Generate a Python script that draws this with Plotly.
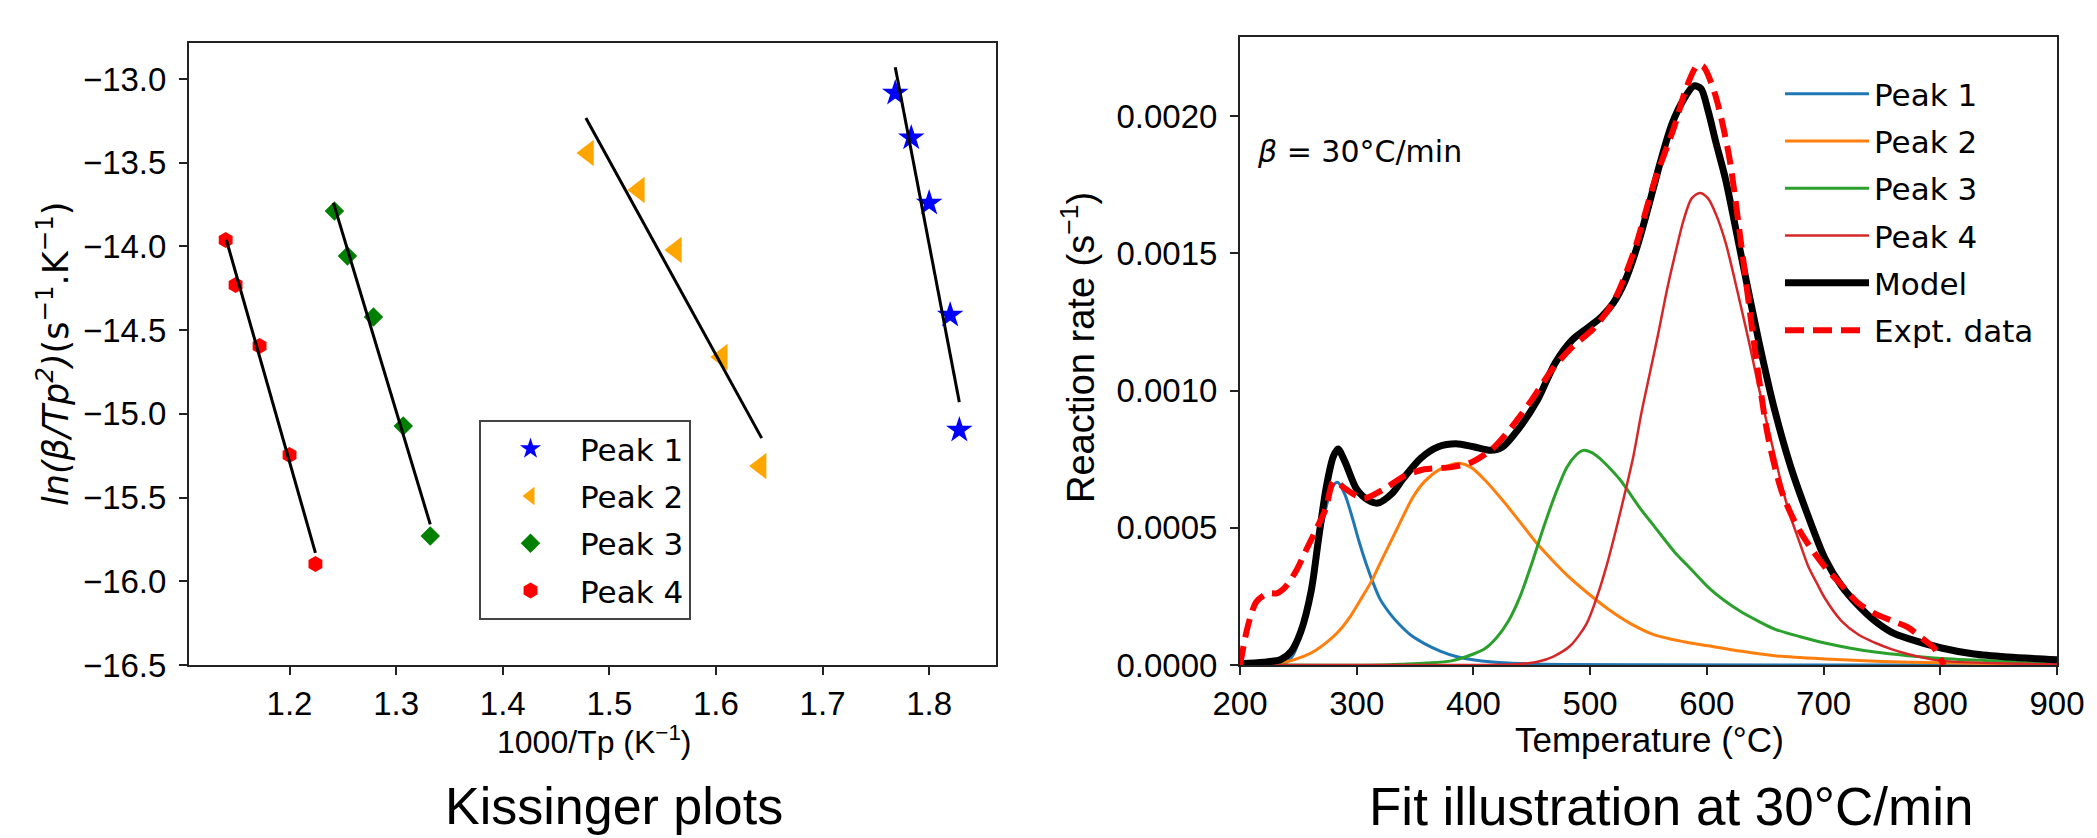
import plotly.graph_objects as go

W, H = 2097, 838

# ---------------- Left panel: Kissinger plots ----------------
pk1_x = [1.7682, 1.7832, 1.8000, 1.8197, 1.8283]
pk1_y = [-13.084, -13.352, -13.741, -14.410, -15.097]
pk2_x = [1.4800, 1.5277, 1.5624, 1.6055, 1.6419]
pk2_y = [-13.442, -13.663, -14.021, -14.661, -15.312]
pk3_x = [1.2421, 1.2543, 1.2787, 1.3067, 1.3320]
pk3_y = [-13.789, -14.057, -14.422, -15.073, -15.730]
pk4_x = [1.1401, 1.1494, 1.1719, 1.2000, 1.2243]
pk4_y = [-13.962, -14.231, -14.595, -15.246, -15.897]

fit1_x = [1.7682, 1.8283]
fit1_y = [-12.93, -14.93]
fit2_x = [1.4780, 1.6429]
fit2_y = [-13.233, -15.145]
fit3_x = [1.2412, 1.3320]
fit3_y = [-13.74, -15.66]
fit4_x = [1.1407, 1.2243]
fit4_y = [-13.96, -15.83]

kis_xticks = [1.2, 1.3, 1.4, 1.5, 1.6, 1.7, 1.8]
kis_yticks = [-13.0, -13.5, -14.0, -14.5, -15.0, -15.5, -16.0, -16.5]

# ---------------- Right panel: fit at 30 C/min ----------------
p1_T = [200, 230, 240, 246, 252, 258, 264, 270, 276, 281, 284, 290, 296, 302, 308, 314,
        320, 328, 336, 346, 358, 372, 386, 401, 430, 480, 550, 900]
p1_v = [0, 0.000002, 0.00001, 0.00004, 0.00011, 0.00021, 0.00035, 0.00050, 0.00061, 0.00066,
        0.000665, 0.00062, 0.00054, 0.00045, 0.00037, 0.00030, 0.00024, 0.00019, 0.00015,
        0.00011, 0.000078, 0.00005, 0.00003, 0.000018, 0.000007, 0.000002, 0.0000005, 0]

p2_T = [200, 225, 240, 255, 265, 275, 284, 295, 305, 312, 320, 335, 348, 358, 370, 381, 388,
        398, 410, 425, 439, 453, 468, 482, 497, 515, 535, 555, 580, 601, 630, 660, 701, 750,
        800, 850, 900]
p2_v = [0, 0.000002, 0.000012, 0.000032, 0.000054, 0.000085, 0.00012, 0.00018, 0.00025,
        0.0003, 0.00037, 0.0005, 0.00061, 0.000668, 0.00071, 0.00073, 0.000735, 0.00072,
        0.000673, 0.0006, 0.000526, 0.00045, 0.00038, 0.00032, 0.000265, 0.000205, 0.00015,
        0.00011, 0.000085, 0.00007, 0.00005, 0.000033, 0.000022, 0.000013, 0.000008,
        0.000005, 0.000003]

p3_T = [200, 320, 340, 360, 381, 400, 410, 420, 430, 440, 450, 460, 470, 480, 488, 494, 501,
        508, 515, 526, 543, 555, 573, 584, 601, 615, 629, 644, 658, 680, 701, 722, 744, 772,
        801, 850, 900]
p3_v = [0, 0, 0.000003, 0.000007, 0.000015, 0.00004, 0.00006, 0.0001, 0.00016, 0.00025,
        0.00037, 0.0005, 0.00062, 0.00072, 0.000765, 0.000782, 0.000775, 0.000754,
        0.000725, 0.000673, 0.00057, 0.000505, 0.000408, 0.00036, 0.000284, 0.000235,
        0.000195, 0.00016, 0.000131, 0.000103, 0.00008, 0.000062, 0.000047, 0.000034,
        0.000024, 0.000015, 0.00001]

p4_T = [200, 400, 420, 440, 455, 468, 483, 497, 506, 514, 522, 530, 537, 544, 551, 558, 566,
        573, 580, 587, 594, 601, 608, 616, 623, 629, 637, 644, 651, 658, 665, 672, 680, 687,
        694, 701, 715, 730, 744, 758, 772, 787, 801, 850, 900]
p4_v = [0, 0, 0.000001, 0.000004, 0.000012, 0.00003, 0.00007, 0.000151, 0.00025, 0.00036,
        0.00049, 0.00063, 0.00076, 0.00092, 0.00106, 0.0012, 0.00137, 0.0015, 0.00162,
        0.0017, 0.00172, 0.0017, 0.00164, 0.00154, 0.00142, 0.00131, 0.00116, 0.00102,
        0.00089, 0.000765, 0.00064, 0.000537, 0.00044, 0.000358, 0.0003, 0.000244,
        0.000162, 0.00011, 0.000081, 0.000058, 0.00004, 0.000025, 0.000015, 0.000006,
        0.000003]

model_T = [200, 220, 235, 244, 252, 261, 267, 274, 280, 284, 290, 300, 310, 318, 330, 340,
           355, 370, 385, 400, 415, 425, 440, 455, 470, 485, 500, 510, 520, 530, 540, 550,
           560, 570, 580, 589, 595, 601, 608, 616, 629, 644, 658, 672, 687, 701, 715, 729,
           744, 758, 772, 801, 829, 858, 900]
model_v = [0.000005, 0.00001, 0.00002, 0.00005, 0.00012, 0.00027, 0.00045, 0.00065, 0.00076,
           0.000787, 0.00074, 0.00064, 0.0006, 0.00059, 0.000624, 0.00068, 0.000754, 0.000795,
           0.000806, 0.000795, 0.000782, 0.000795, 0.000868, 0.000966, 0.0011, 0.001186,
           0.001235, 0.00127, 0.00132, 0.0014, 0.00152, 0.00167, 0.00183, 0.00197, 0.00206,
           0.00211, 0.0021, 0.00202, 0.0019, 0.00177, 0.0015, 0.00119, 0.00093, 0.00072,
           0.00054, 0.00039, 0.00029, 0.00022, 0.00016, 0.00012, 0.000097, 0.000062,
           0.00004, 0.000029, 0.000019]

expt_T = [200, 205.7, 210, 214, 223, 232, 240, 249, 257.5, 266, 273.5, 280, 285, 291, 306,
          323, 341, 358, 381, 398, 416, 433, 450, 468, 485, 503, 520, 537, 555, 572, 583,
          592, 597, 607, 619, 629, 641, 652.5, 664, 675.5, 687, 701, 715, 729, 744, 758,
          772, 787, 795, 803]
expt_v = [0, 0.000124, 0.00019, 0.00023, 0.00026, 0.000262, 0.00029, 0.00035, 0.000426,
          0.0005, 0.00057, 0.000668, 0.00066, 0.00064, 0.000607, 0.00064, 0.000689,
          0.000713, 0.000721, 0.000738, 0.000787, 0.000868, 0.000966, 0.00108, 0.00116,
          0.001226, 0.001324, 0.0015, 0.00176, 0.00196, 0.00211, 0.002185, 0.00218,
          0.00208, 0.001855, 0.001546, 0.001155, 0.00083, 0.000634, 0.00052, 0.000439,
          0.000358, 0.000293, 0.000228, 0.000187, 0.000162, 0.000138, 0.000089, 0.00006, 0]

fit_xticks = [200, 300, 400, 500, 600, 700, 800, 900]
fit_yticks = [0.0, 0.0005, 0.0010, 0.0015, 0.0020]


def px(x):
    return x / W


def py(y):
    return 1 - y / H


fig = go.Figure()

# Kissinger markers
kis_series = [
    ("Peak 1", pk1_x, pk1_y, "star", "#0000ff", 20),
    ("Peak 2", pk2_x, pk2_y, "triangle-left", "#ffa500", 23),
    ("Peak 3", pk3_x, pk3_y, "diamond", "#008000", 15),
    ("Peak 4", pk4_x, pk4_y, "hexagon", "#ff0000", 16),
]
for name, xs, ys, sym, col, sz in kis_series:
    fig.add_trace(go.Scatter(
        x=xs, y=ys, mode="markers", name=name, legend="legend", legendgroup="k" + name,
        marker=dict(symbol=sym, color=col, size=sz, line=dict(width=0)),
        xaxis="x", yaxis="y"))

for fx, fy in [(fit1_x, fit1_y), (fit2_x, fit2_y), (fit3_x, fit3_y), (fit4_x, fit4_y)]:
    fig.add_trace(go.Scatter(x=fx, y=fy, mode="lines", showlegend=False,
                             line=dict(color="black", width=3), xaxis="x", yaxis="y"))

# Fit illustration curves
fit_series = [
    ("Peak 1", p1_T, p1_v, "#1f77b4", 3, "solid"),
    ("Peak 2", p2_T, p2_v, "#ff7f0e", 3, "solid"),
    ("Peak 3", p3_T, p3_v, "#2ca02c", 3, "solid"),
    ("Peak 4", p4_T, p4_v, "#d62728", 2.5, "solid"),
    ("Model", model_T, model_v, "black", 7, "solid"),
    ("Expt. data", expt_T, expt_v, "#ff0000", 6, "19px,9px"),
]
for name, xs, ys, col, lw, dash in fit_series:
    fig.add_trace(go.Scatter(
        x=xs, y=ys, mode="lines", name=name, legend="legend2", legendgroup="f" + name,
        line=dict(color=col, width=lw, dash=dash, shape="spline", smoothing=0.8),
        xaxis="x2", yaxis="y2"))

tickfont = dict(family="Liberation Sans, Arial", size=33, color="black")
axis_common = dict(showline=True, mirror=True, linecolor="#222", linewidth=2,
                   ticks="outside", ticklen=8, tickwidth=2, tickcolor="#222",
                   showgrid=False, zeroline=False, tickfont=tickfont, automargin=False)

fig.update_layout(
    width=W, height=H,
    margin=dict(l=0, r=0, t=0, b=0),
    paper_bgcolor="white", plot_bgcolor="white",
    xaxis=dict(domain=[px(181), px(988)], range=[1.1057, 1.8627], tickvals=kis_xticks,
               tickformat=".1f", anchor="y", ticklabelstandoff=0, **axis_common),
    yaxis=dict(domain=[py(657), py(35)], range=[-16.5, -12.785], tickvals=kis_yticks,
               tickformat=".1f", anchor="x", ticklabelstandoff=6, **axis_common),
    xaxis2=dict(domain=[px(1232), px(2049)], range=[200, 900], tickvals=fit_xticks,
                anchor="y2", ticklabelstandoff=0, **axis_common),
    yaxis2=dict(domain=[py(657), py(29)], range=[0, 0.002288], tickvals=fit_yticks,
                tickformat=".4f", anchor="x2", ticklabelstandoff=6, **axis_common),
    legend=dict(x=px(471), y=py(412), xanchor="left", yanchor="top",
                bordercolor="#444", borderwidth=2, bgcolor="white",
                font=dict(family="DejaVu Sans", size=31, color="black"),
                itemwidth=89, tracegroupgap=4),
    legend2=dict(x=px(1772), y=py(59), xanchor="left", yanchor="top",
                 borderwidth=0, bgcolor="rgba(255,255,255,0)",
                 font=dict(family="DejaVu Sans", size=31, color="black"),
                 itemwidth=84, tracegroupgap=4),
    showlegend=True,
)

ann_font = dict(family="Liberation Sans, Arial", color="black")
annotations = [
    dict(text="<i>ln(β/Tp<sup>2</sup>)</i>(s<sup>−1</sup>.K<sup>−1</sup>)", xref="paper",
         yref="paper", x=px(45), y=py(346), textangle=-90, showarrow=False,
         xanchor="center", yanchor="middle",
         font=dict(family="DejaVu Sans", size=35, color="black")),
    dict(text="1000/Tp (K<sup>−1</sup>)", xref="paper", yref="paper", x=px(586), y=py(732),
         showarrow=False, xanchor="center", yanchor="middle", font=dict(size=32, **ann_font)),
    dict(text="Reaction rate (s<sup>−1</sup>)", xref="paper", yref="paper", x=px(1070),
         y=py(340), textangle=-90, showarrow=False, xanchor="center", yanchor="middle",
         font=dict(size=38, **ann_font)),
    dict(text="Temperature (°C)", xref="paper", yref="paper", x=px(1641), y=py(731),
         showarrow=False, xanchor="center", yanchor="middle", font=dict(size=35, **ann_font)),
    dict(text="<i>β</i> = 30°C/min", xref="x2", yref="y2", x=213, y=0.00187,
         showarrow=False, xanchor="left", yanchor="middle",
         font=dict(family="DejaVu Sans", size=30, color="black")),
    dict(text="Kissinger plots", xref="paper", yref="paper", x=px(606), y=py(798),
         showarrow=False, xanchor="center", yanchor="middle", font=dict(size=52, **ann_font)),
    dict(text="Fit illustration at 30°C/min", xref="paper", yref="paper", x=px(1663),
         y=py(798), showarrow=False, xanchor="center", yanchor="middle",
         font=dict(size=53, **ann_font)),
]
fig.update_layout(annotations=annotations)

fig.add_shape(type="line", xref="paper", yref="paper", x0=px(2092), x1=px(2092), y0=0, y1=1,
              line=dict(color="black", width=4))

fig.write_html("out.html")
